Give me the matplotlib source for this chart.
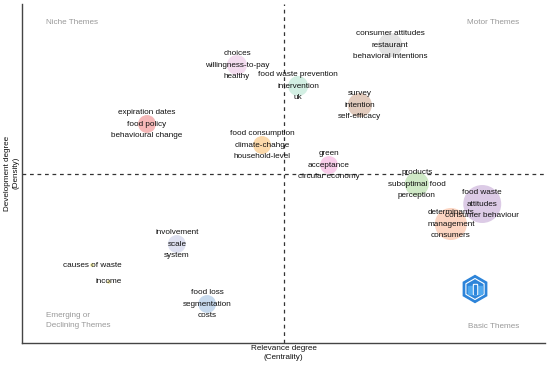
import matplotlib.pyplot as plt
from matplotlib.patches import RegularPolygon, Rectangle

plt.rcParams['font.family'] = ['Liberation Sans', 'DejaVu Sans']

# Тематическая карта: кластеры ключевых слов
labels = [
    ['choices', 'willingness-to-pay', 'healthy'],
    ['food waste prevention', 'intervention', 'uk'],
    ['consumer attitudes', 'restaurant', 'behavioral intentions'],
    ['survey', 'intention', 'self-efficacy'],
    ['expiration dates', 'food policy', 'behavioural change'],
    ['food consumption', 'climate-chahge', 'household-level'],
    ['green', 'acceptance', 'circular economy'],
    ['products', 'suboptimal food', 'perception'],
    ['food waste', 'attitudes', 'consumer behaviour'],
    ['determinants', 'management', 'consumers'],
    ['involvement', 'scale', 'system'],
    ['causes of waste'],
    ['income'],
    ['food loss', 'segmentation', 'costs'],
]
centrality = [41.1, 52.8, 70.4, 64.6, 23.9, 45.9, 58.7, 75.5, 88.0, 82.0, 29.6, 13.4, 16.6, 35.4]
density = [82.0, 75.8, 87.9, 70.2, 64.6, 58.4, 52.5, 46.9, 41.0, 35.1, 29.2, 23.0, 18.0, 11.5]
freq = [25, 25, 36, 36, 20, 20, 20, 36, 90, 64, 20, 1, 1, 20]
colors = ['#f3dcef', '#d3efe3', '#e3e3e3', '#e2cbbd', '#f6b8b8', '#fcd9aa', '#f9cdea',
          '#cfe9c6', '#dccbe6', '#fcd5c2', '#dee1f1', '#f4f0b0', '#f4ecb0', '#c7daee']

centrality_mid = 50
density_mid = 50

fig = plt.figure(figsize=(5.5, 3.66), dpi=100)
ax = fig.add_axes([22 / 550, 23 / 366, 523 / 550, 339 / 366])
ax.set_xlim(0, 100)
ax.set_ylim(0, 100)

ax.scatter(centrality, density, s=[f * 8.3 for f in freq], c=colors, edgecolors='none', zorder=2)

for x, y, lab in zip(centrality, density, labels):
    n = len(lab)
    for i, t in enumerate(lab):
        off = (i - (n - 1) / 2) * -8.3
        ax.annotate(t, (x, y), xytext=(0, off), textcoords='offset points',
                    ha='center', va='center', fontsize=5.9, color='#111111', zorder=3)

ax.axvline(centrality_mid, ls=(0, (3, 3)), lw=0.9, color='#333333', zorder=1)
ax.axhline(density_mid, ls=(0, (3, 3)), lw=0.9, color='#333333', zorder=1)

for s in ['top', 'right']:
    ax.spines[s].set_visible(False)
for s in ['left', 'bottom']:
    ax.spines[s].set_color('#444444')
    ax.spines[s].set_linewidth(1.0)
ax.set_xticks([])
ax.set_yticks([])

qc = '#999999'
ax.text(0.046, 0.944, 'Niche Themes', transform=ax.transAxes, fontsize=5.9, color=qc, va='center')
ax.text(0.950, 0.944, 'Motor Themes', transform=ax.transAxes, fontsize=5.9, color=qc, va='center', ha='right')
ax.text(0.046, 0.065, 'Emerging or\nDeclining Themes', transform=ax.transAxes, fontsize=5.9, color=qc,
        va='center', linespacing=1.6)
ax.text(0.950, 0.05, 'Basic Themes', transform=ax.transAxes, fontsize=5.9, color=qc, va='center', ha='right')

fig.text(283.5 / 550, 1 - 353 / 366, 'Relevance degree\n(Centrality)', ha='center', va='center',
         fontsize=5.9, color='#111111', linespacing=1.3)
fig.text(12 / 550, 1 - 173 / 366, 'Development degree\n(Density)', ha='center', va='center',
         rotation=90, fontsize=5.9, color='#111111', linespacing=1.3)

# логотип
lax = fig.add_axes([(475 - 15) / 550, (366 - 289 - 15) / 366, 30 / 550, 30 / 366])
lax.set_xlim(-1, 1)
lax.set_ylim(-1, 1)
lax.set_aspect('equal')
lax.axis('off')
lax.add_patch(RegularPolygon((0, 0), 6, radius=0.9, color='#2d84d9'))
lax.add_patch(RegularPolygon((0, 0), 6, radius=0.7, fill=False, ec='white', lw=0.8))
lax.add_patch(Rectangle((-0.45, -0.35), 0.9, 0.55, color='#4fa8ef'))
lax.add_patch(Rectangle((-0.12, -0.35), 0.24, 0.7, color='white'))
lax.add_patch(Rectangle((-0.06, -0.3), 0.12, 0.55, color='#2d84d9'))

fig.savefig('out.png', dpi=100)
